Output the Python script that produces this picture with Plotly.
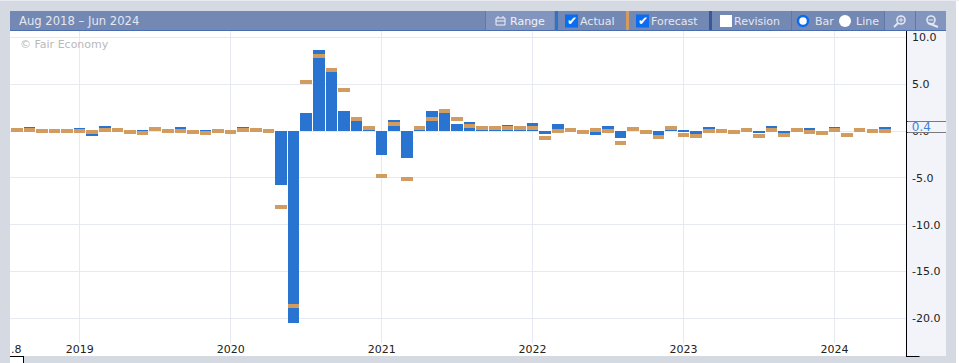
import plotly.graph_objects as go

W, H = 959, 363

months = [f"{y}-{m:02d}" for y, m in
          [(2018, m) for m in range(8, 13)] +
          [(y, m) for y in range(2019, 2024) for m in range(1, 13)] +
          [(2024, m) for m in range(1, 6)]]

actual = [0.3, 0.4, 0.2, 0.2, 0.2, 0.3, -0.5, 0.6, 0.3, 0.1,
          0.1, 0.4, 0.2, 0.4, 0.1, 0.1, 0.2, 0.1, 0.4, 0.3,
          0.2, -5.8, -20.5, 1.9, 8.7, 6.6, 2.2, 1.3, 0.3, -2.6,
          1.2, -2.9, 0.4, 2.2, 2.2, 0.8, 1.0, 0.3, 0.3, 0.7,
          0.3, 0.9, -0.3, 0.8, 0.2, 0.0, -0.4, 0.6, -0.7, 0.3,
          0.0, -0.6, 0.6, 0.1, -0.3, 0.4, 0.1, 0.0, 0.2, -0.2,
          0.6, -0.2, 0.2, 0.3, 0.0, 0.4, 0.0, 0.2, 0.1, 0.4]
forecast = [0.3, 0.3, 0.2, 0.2, 0.2, 0.2, 0.1, 0.3, 0.3, 0.1,
            0.0, 0.4, 0.2, 0.2, 0.1, 0.0, 0.2, 0.1, 0.3, 0.3,
            0.2, -7.9, -18.5, 5.5, 8.2, 6.7, 4.6, 1.5, 0.5, -4.6,
            1.0, -4.9, 0.6, 1.5, 2.4, 1.5, 0.8, 0.6, 0.6, 0.5,
            0.5, 0.5, -0.5, 0.2, 0.3, 0.1, 0.3, 0.2, -1.1, 0.4,
            0.1, -0.4, 0.5, -0.2, -0.3, 0.2, 0.2, 0.1, 0.3, -0.3,
            0.3, -0.2, 0.3, 0.1, 0.0, 0.3, -0.2, 0.3, 0.2, 0.2]
forecast_thickness = [-0.43] * len(months)

year_ticks = ["2019-01", "2020-01", "2021-01", "2022-01", "2023-01", "2024-01"]
year_labels = ["2019", "2020", "2021", "2022", "2023", "2024"]
y_ticks = [10, 5, 0, -5, -10, -15, -20]
y_labels = ["10.0", "5.0", "0.0", "-5.0", "-10.0", "-15.0", "-20.0"]

FONT = "DejaVu Sans"
GRID = "#e7e9f2"
PAGE = "#d5d9e2"
HEAD = "#7488b4"
LIGHT = "#8295bf"
TXT = "#e3e7f1"


def px(x):
    return x / W


def py(y):
    return 1 - y / H


shapes = []
annots = []


def rect(x0, y0, x1, y1, fill, layer="below", line=None, lw=0, ty="rect"):
    shapes.append(dict(type=ty, xref="paper", yref="paper", layer=layer,
                       x0=px(x0), x1=px(x1), y0=py(y0), y1=py(y1),
                       fillcolor=fill, line=dict(color=line or fill, width=lw)))


def seg(x0, y0, x1, y1, color, w=1):
    shapes.append(dict(type="line", xref="paper", yref="paper", layer="above",
                       x0=px(x0), x1=px(x1), y0=py(y0), y1=py(y1),
                       line=dict(color=color, width=w)))


def label(x, y, text, color=TXT, size=11, anchor="left", **kw):
    annots.append(dict(xref="paper", yref="paper", x=px(x), y=py(y), text=text,
                       showarrow=False, xanchor=anchor, yanchor="middle",
                       font=dict(family=FONT, size=size, color=color), **kw))


# page furniture
rect(956, 0, 959, 363, "#ffffff")
rect(0, 0, 959, 1, "#e9ebf0")
rect(10, 31, 906, 356, "#ffffff")
rect(906, 31, 946, 356, "#f3f4f9")
rect(10, 11, 946, 30, HEAD, layer="above")
rect(10, 30, 946, 31, "#4a6db0", layer="above")
rect(486, 11, 554, 30, LIGHT, layer="above")
rect(885, 11, 946, 30, LIGHT, layer="above")
rect(555, 11, 558, 30, "#2874d0", layer="above")
rect(626, 11, 629, 30, "#d29b5f", layer="above")
rect(709, 11, 712, 30, "#36599a", layer="above")
for sx in (485.5, 791.5, 884.5, 915.5):
    seg(sx, 11, sx, 30, "#5f78ab")

# axis frame
seg(906.5, 31, 906.5, 356, "#000000")
seg(906, 356.5, 919.5, 356.5, "#000000")
seg(10, 356.5, 23.5, 356.5, "#000000")
seg(23.5, 356, 23.5, 363, "#000000")
rect(10, 357, 23, 363, "#ffffff")

# header text
label(17, 21, "Aug 2018 – Jun 2024", size=11.6)
label(508, 21, "Range", color="#f0f2f8")
label(578, 21, "Actual")
label(649, 21, "Forecast")
label(732, 21, "Revision")
label(813, 21, "Bar")
label(854, 21, "Line")
label(18, 44, "© Fair Economy", color="#b9b9b9", size=11)

# range icon
rect(496, 18, 505, 25, "rgba(0,0,0,0)", layer="above", line="#f0f2f8", lw=1)
seg(496, 21, 505, 21, "#f0f2f8")
seg(498, 16, 498, 18, "#f0f2f8")
seg(503, 16, 503, 18, "#f0f2f8")

# check boxes
rect(565, 14.5, 578, 27.5, "#0a6cf0", layer="above")
rect(636, 14.5, 649, 27.5, "#0a6cf0", layer="above")
label(571.5, 21, "✔", color="#ffffff", size=12, anchor="center")
label(642.5, 21, "✔", color="#ffffff", size=12, anchor="center")
rect(720, 15, 732, 27, "#ffffff", layer="above")

# radio buttons
rect(798, 16, 808, 26, "#ffffff", layer="above", line="#0a6cf0", lw=2.5, ty="circle")
rect(839, 15, 851, 27, "#ffffff", layer="above", ty="circle")

# zoom icons
for cx, cy in ((901, 20), (931, 20)):
    rect(cx - 4, cy - 4, cx + 4, cy + 4, "rgba(0,0,0,0)", layer="above", line=TXT, lw=1.6, ty="circle")
    seg(cx - 3, cy + 3, cx - 7 if cx < 910 else cx + 7, cy + 7, TXT, 2)
seg(898.5, 20, 903.5, 20, TXT)
seg(901, 17.5, 901, 22.5, TXT)
seg(928.5, 20, 933.5, 20, TXT)

# clipped edge tick and latest value flag
label(8.5, 349, ".8", color="#222222", size=11)
seg(906, 121.5, 946, 121.5, "#000000")
seg(906, 132.5, 946, 132.5, "#000000")
annots.append(dict(xref="paper", yref="paper", x=px(907), y=py(127),
                   text=f"&nbsp;{actual[-1]:.1f}", showarrow=False, xanchor="left",
                   yanchor="middle", width=38, height=10, align="left",
                   bgcolor="#f3f4f9", borderpad=0,
                   font=dict(family=FONT, size=12, color="#3f83d8")))

fig = go.Figure()
fig.add_bar(x=months, y=actual, marker=dict(color="#2874d0", line_width=0),
            width=0.92, name="Actual", hoverinfo="skip")
fig.add_bar(x=months, y=forecast_thickness, base=forecast,
            marker=dict(color="#d29b5f", line_width=0),
            width=0.92, name="Forecast", hoverinfo="skip")

fig.update_layout(
    width=W, height=H, margin=dict(l=0, r=0, t=0, b=0, autoexpand=False),
    paper_bgcolor=PAGE, plot_bgcolor="#ffffff",
    barmode="overlay", showlegend=False, bargap=0,
    font=dict(family=FONT, size=11, color="#222222"),
    shapes=shapes, annotations=annots,
    xaxis=dict(domain=[px(10), px(906)], type="category", categoryorder="array",
               categoryarray=months, range=[-0.54, 70.68],
               tickmode="array", tickvals=year_ticks, ticktext=year_labels,
               showgrid=True, gridcolor=GRID, gridwidth=1, ticks="", showline=False,
               zeroline=False, tickangle=0, ticklabelstandoff=-2,
               tickfont=dict(family=FONT, size=11, color="#222222")),
    yaxis=dict(domain=[py(343), py(31)], side="right", range=[-22.62, 10.69],
               tickmode="array", tickvals=y_ticks, ticktext=y_labels,
               showgrid=True, gridcolor=GRID, gridwidth=1, zeroline=False,
               ticks="", showline=False, ticklabelstandoff=5,
               tickfont=dict(family=FONT, size=11, color="#222222")),
)

fig.write_html("out.html", config=dict(displayModeBar=False),
               post_script="document.body.style.margin='0';document.documentElement.style.overflow='hidden';")
